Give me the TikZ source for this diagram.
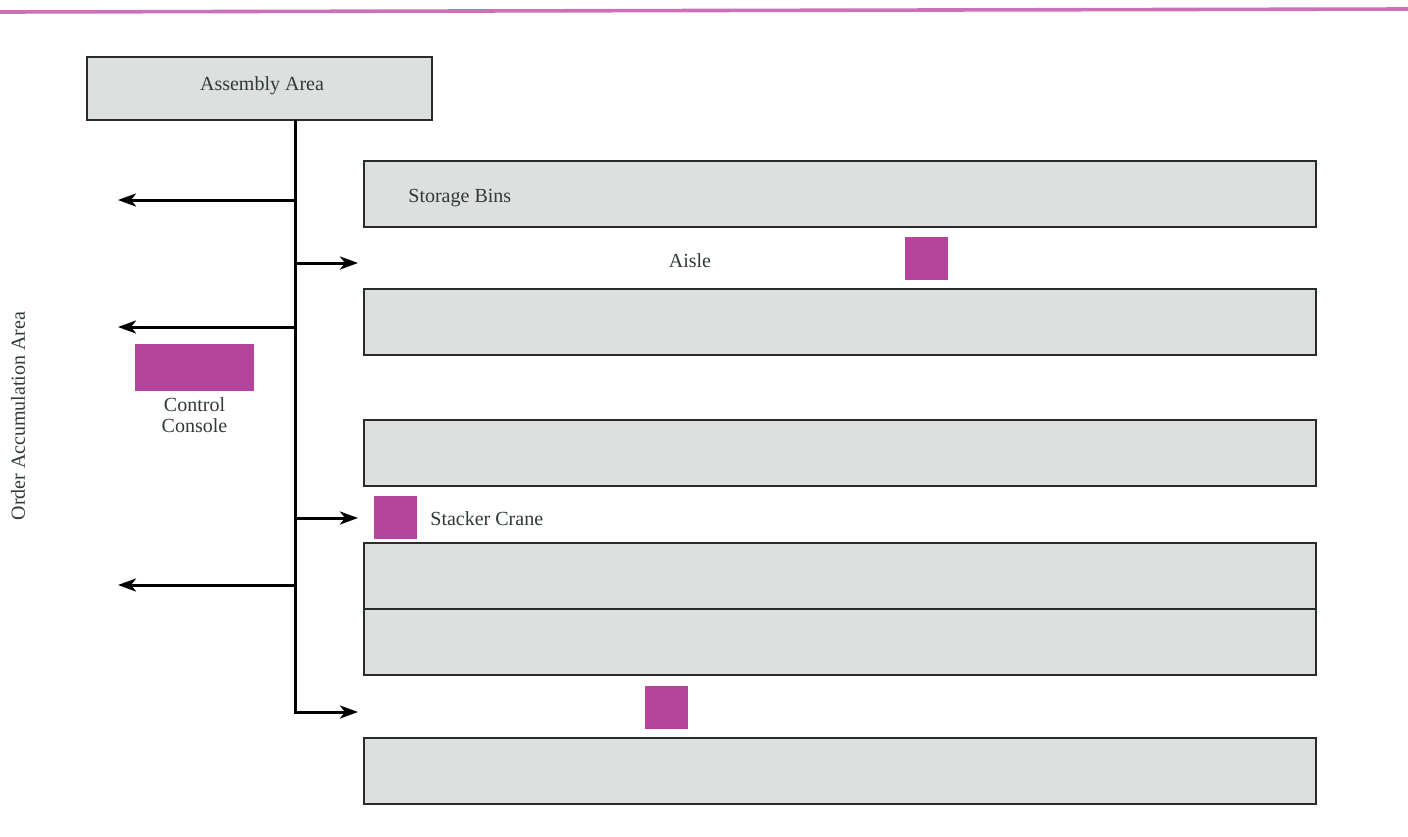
\documentclass[tikz,border=0pt]{standalone}
\usepackage{fontspec}
\setmainfont{Liberation Serif}
\usepackage{tikz}
\usetikzlibrary{positioning,arrows.meta,calc}
\definecolor{binfill}{RGB}{221,224,222}
\definecolor{binrule}{RGB}{40,44,42}
\definecolor{cranefill}{RGB}{180,68,156}
\definecolor{toprule}{RGB}{204,112,184}
\definecolor{labeltext}{RGB}{47,58,51}
\tikzset{
  binbox/.style={rectangle,draw=binrule,line width=1pt,fill=binfill,minimum width=476pt,minimum height=33pt,inner sep=0pt,outer sep=0pt},
  areabox/.style={rectangle,draw=binrule,line width=1pt,fill=binfill,minimum width=172.5pt,minimum height=31.5pt,inner sep=0pt,outer sep=0pt},
  crane/.style={rectangle,fill=cranefill,minimum size=21.5pt,inner sep=0pt},
  console/.style={rectangle,fill=cranefill,minimum width=59.5pt,minimum height=23.5pt,inner sep=0pt},
  tag/.style={text=labeltext,font=\fontsize{10}{10.5}\selectfont,inner sep=0pt,align=center},
  edge/.style={-{Stealth[length=9pt,width=6.5pt,inset=2.5pt]},line width=1.5pt,black}
}

\begin{document}
\begin{tikzpicture}[x=0.5pt,y=-0.5pt]
  \useasboundingbox (0,0) rectangle (1408,836);
  \draw[toprule,line width=1.8pt] (0,12) -- (1408,9);

  \node[areabox] (assembly) at (259.5,88.5) {};
  \node[tag] at (262,86) {Assembly Area};

  \node[binbox] (bin1) at (840,193.5) {};
  \node[binbox] (bin2) at (840,322) {};
  \node[binbox] (bin3) at (840,452.5) {};
  \node[binbox] (bin4) at (840,575.5) {};
  \node[binbox] (bin5) at (840,641.5) {};
  \node[binbox] (bin6) at (840,770.5) {};
  \node[tag,anchor=west] (binlabel) at (408,198) {Storage Bins};
  \node[tag] (aisle) at (690,261) {Aisle};

  \node[crane] (crane1) at (926,258) {};
  \node[crane] (crane2) at (395,517.5) {};
  \node[crane] (crane3) at (666.5,707.5) {};
  \node[tag,anchor=west] (cranelabel) at (430,519) {Stacker Crane};

  \node[console] (console) at (194.5,367.5) {};
  \node[tag,below=3pt of console] (consolelabel) {Control\\Console};

  \node[tag,rotate=90] (order) at (18,416) {Order Accumulation Area};

  \coordinate (trunk) at (295,712);
  \coordinate (out1) at (118,200);
  \coordinate (out2) at (118,327);
  \coordinate (out3) at (118,585);
  \coordinate (in1) at (358,263);
  \coordinate (in2) at (358,518);
  \coordinate (in3) at (358,712);

  \draw[edge] (assembly.south -| trunk) -- (trunk) -- (in3);
  \foreach \p in {out1,out2,out3,in1,in2}
    \draw[edge] (\p -| trunk) -- (\p);
\end{tikzpicture}
\end{document}
